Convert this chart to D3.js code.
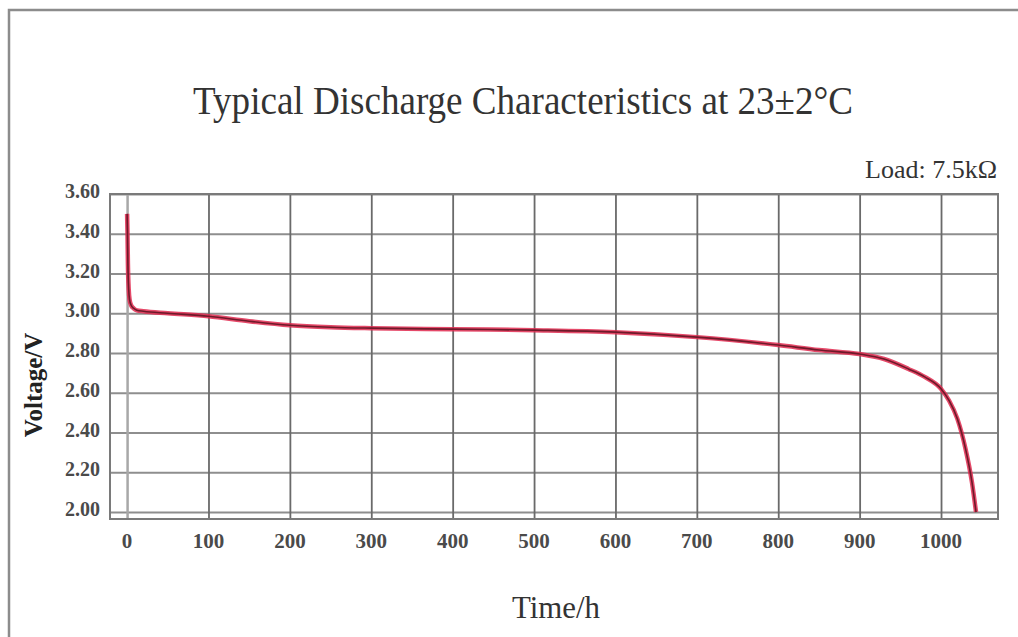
<!DOCTYPE html>
<html>
<head>
<meta charset="utf-8">
<script src="https://cdn.jsdelivr.net/npm/d3@7"></script>
<style>
  body { margin: 0; background: #fff; }
  text { font-family: "Liberation Serif", "Times New Roman", serif; }
</style>
</head>
<body>
<svg id="chart"></svg>
<script>
// data
const timeH = [0, 0.5, 1, 2, 3, 5, 8, 12, 20, 50, 100, 150, 200, 250, 300, 400, 500, 600, 700, 800, 850, 900, 930, 960, 980, 1000, 1010, 1020, 1030, 1038, 1043];
const voltage = [3.50, 3.40, 3.25, 3.12, 3.07, 3.04, 3.025, 3.015, 3.01, 3.00, 2.985, 2.96, 2.94, 2.93, 2.925, 2.92, 2.915, 2.905, 2.88, 2.84, 2.815, 2.795, 2.77, 2.72, 2.68, 2.62, 2.56, 2.47, 2.32, 2.15, 2.00];
const xTicks = [0, 100, 200, 300, 400, 500, 600, 700, 800, 900, 1000];
const yTicks = [2.00, 2.20, 2.40, 2.60, 2.80, 3.00, 3.20, 3.40, 3.60];

const width = 1018, height = 637;
const margin = { top: 194, right: 20, bottom: 118, left: 110 };
const innerWidth = width - margin.left - margin.right;
const innerHeight = height - margin.top - margin.bottom;

const svg = d3.select("#chart").attr("width", width).attr("height", height);

// outer frame (top + left edges visible)
svg.append("path")
  .attr("d", `M9,${height} L9,10 L${width},10`)
  .attr("fill", "none").attr("stroke", "#8c8c8c").attr("stroke-width", 2.5);

const x = d3.scaleLinear().domain([-21, 1070]).range([0, innerWidth]);
const y = d3.scaleLinear().domain([1.965, 3.60]).range([innerHeight, 0]);

const g = svg.append("g").attr("transform", `translate(${margin.left},${margin.top})`);

// horizontal grid
g.append("g")
  .call(d3.axisLeft(y).tickValues(yTicks).tickSize(-innerWidth).tickFormat(""))
  .call(s => s.select(".domain").remove())
  .call(s => s.selectAll("line").attr("stroke", "#8e8e8e").attr("stroke-width", 2));

// vertical grid
g.append("g")
  .attr("transform", `translate(0,${innerHeight})`)
  .call(d3.axisBottom(x).tickValues(xTicks).tickSize(-innerHeight).tickFormat(""))
  .call(s => s.select(".domain").remove())
  .call(s => s.selectAll("line")
    .attr("stroke", d => d === 0 ? "#a8a8a8" : "#6a6a6a")
    .attr("stroke-width", d => d === 0 ? 2.5 : 1.8));

// plot border
g.append("rect")
  .attr("width", innerWidth).attr("height", innerHeight)
  .attr("fill", "none").attr("stroke", "#7a7a7a").attr("stroke-width", 2);

// y tick labels
g.append("g")
  .selectAll("text").data(yTicks).join("text")
  .attr("x", -10).attr("y", d => y(d) + 4)
  .attr("text-anchor", "end")
  .attr("font-size", 20).attr("font-weight", "bold").attr("fill", "#4a4a4a")
  .text(d => d.toFixed(2));

// x tick labels
g.append("g")
  .selectAll("text").data(xTicks).join("text")
  .attr("x", d => x(d)).attr("y", innerHeight + 29)
  .attr("text-anchor", "middle")
  .attr("font-size", 21).attr("font-weight", "bold").attr("fill", "#4a4a4a")
  .text(d => d);

// discharge curve: red halo + dark core
const pts = timeH.map((t, i) => [t, voltage[i]]);
const line = d3.line().x(d => x(d[0])).y(d => y(d[1])).curve(d3.curveMonotoneX);
g.append("path").datum(pts).attr("d", line)
  .attr("fill", "none").attr("stroke", "#e0294f").attr("stroke-width", 4.5).attr("stroke-opacity", 0.85)
  .attr("stroke-linejoin", "round");
g.append("path").datum(pts).attr("d", line)
  .attr("fill", "none").attr("stroke", "#6e1a2a").attr("stroke-width", 1.6)
  .attr("stroke-linejoin", "round");

// titles
svg.append("text")
  .attr("x", 193).attr("y", 114)
  .attr("font-size", 40).attr("fill", "#333")
  .attr("textLength", 660).attr("lengthAdjust", "spacingAndGlyphs")
  .text("Typical Discharge Characteristics at 23±2°C");

svg.append("text")
  .attr("x", 865).attr("y", 178)
  .attr("font-size", 26).attr("fill", "#333")
  .attr("textLength", 132).attr("lengthAdjust", "spacingAndGlyphs")
  .text("Load: 7.5kΩ");

svg.append("text")
  .attr("transform", "translate(42,385) rotate(-90)")
  .attr("text-anchor", "middle").attr("font-size", 25).attr("font-weight", "bold").attr("fill", "#222")
  .text("Voltage/V");

svg.append("text")
  .attr("x", 512).attr("y", 618)
  .attr("font-size", 32).attr("fill", "#333")
  .attr("textLength", 88).attr("lengthAdjust", "spacingAndGlyphs")
  .text("Time/h");
</script>
</body>
</html>
